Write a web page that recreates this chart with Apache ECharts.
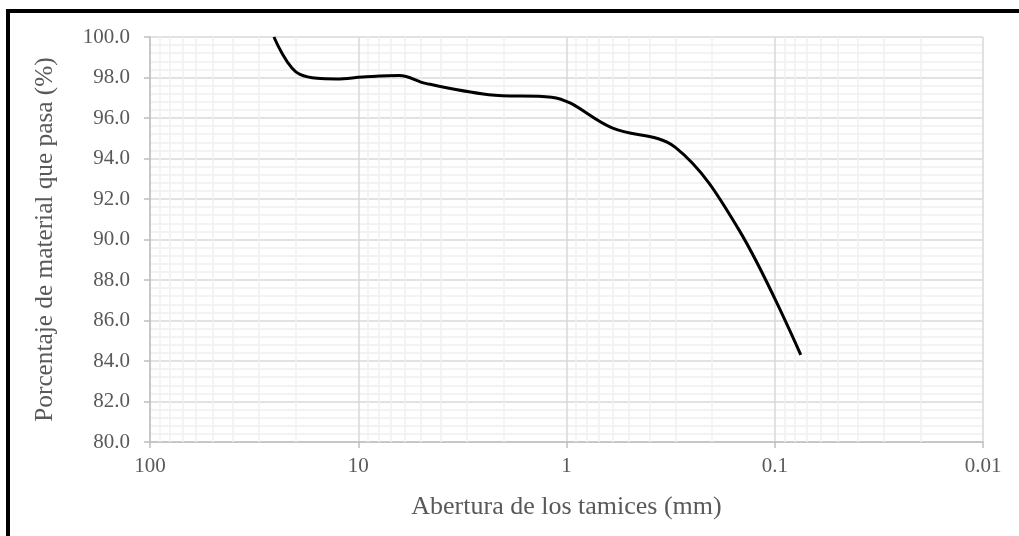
<!DOCTYPE html>
<html>
<head>
<meta charset="utf-8">
<script src="https://cdn.jsdelivr.net/npm/echarts@6/dist/echarts.min.js"></script>
<style>html,body{margin:0;padding:0;background:#fff;}#c{width:1019px;height:536px;}</style>
</head>
<body>
<div id="c"></div>
<script>
// Sieve openings (mm) and percent passing
const sieveMM = [25.4, 19.05, 12.7, 9.525, 6.35, 4.75, 2.36, 1.18, 0.6, 0.3, 0.15, 0.075];
const passing = [100.0, 98.15, 97.93, 98.02, 98.1, 97.71, 97.15, 97.03, 95.5, 94.55, 90.55, 84.3];
// Minor (logarithmic) vertical gridline positions
const minorX = [90,80,70,60,50,40,30,20, 9,8,7,6,5,4,3,2, 0.9,0.8,0.7,0.6,0.5,0.4,0.3,0.2, 0.09,0.08,0.07,0.06,0.05,0.04,0.03,0.02];
const xTitle = 'Abertura de los tamices (mm)';
const yTitle = 'Porcentaje de material que pasa (%)';

const font = '"Liberation Serif", "Times New Roman", serif';
const chart = echarts.init(document.getElementById('c'), null, {renderer: 'canvas'});
chart.setOption({
  backgroundColor: '#ffffff',
  animation: false,
  grid: {left: 150, right: 36, top: 37, bottom: 94, containLabel: false},
  xAxis: {
    type: 'log', logBase: 10, min: 0.01, max: 100, inverse: true,
    name: xTitle, nameLocation: 'middle', nameGap: 52,
    nameTextStyle: {fontFamily: font, fontSize: 26, color: '#595959'},
    axisLine: {show: true, lineStyle: {color: '#bfbfbf', width: 1.5}},
    axisTick: {show: true, length: 6, lineStyle: {color: '#bfbfbf', width: 1.5}},
    axisLabel: {fontFamily: font, fontSize: 21, color: '#595959', margin: 14,
      formatter: v => String(Number(Number(v).toPrecision(6)))},
    splitLine: {show: true, lineStyle: {color: '#d9d9d9', width: 1.5}},
    minorTick: {show: false}, minorSplitLine: {show: false}
  },
  yAxis: {
    type: 'value', min: 80, max: 100, interval: 2,
    name: yTitle, nameLocation: 'middle', nameGap: 92,
    nameTextStyle: {fontFamily: font, fontSize: 25.3, color: '#595959'},
    axisLine: {show: true, lineStyle: {color: '#bfbfbf', width: 1.5}},
    axisTick: {show: true, length: 6, lineStyle: {color: '#bfbfbf', width: 1.5}},
    axisLabel: {fontFamily: font, fontSize: 21, color: '#595959', margin: 20,
      formatter: v => Number(v).toFixed(1)},
    splitLine: {show: true, lineStyle: {color: '#d9d9d9', width: 1.5}},
    minorTick: {show: false, splitNumber: 5},
    minorSplitLine: {show: true, lineStyle: {color: '#f0f0f0', width: 1.5}}
  },
  series: [
    {
      type: 'line', data: [], z: 1, silent: true,
      markLine: {
        silent: true, symbol: ['none', 'none'], label: {show: false},
        lineStyle: {color: '#f0f0f0', width: 1.5, type: 'solid'},
        emphasis: {disabled: true},
        data: minorX.map(v => ({xAxis: v}))
      }
    },
    {
      type: 'line', z: 5,
      data: sieveMM.map((d, i) => [d, passing[i]]),
      smooth: 0.36, showSymbol: false, symbol: 'none',
      lineStyle: {color: '#000000', width: 3}
    }
  ],
  graphic: [{
    type: 'rect', silent: true, z: 100,
    shape: {x: 8, y: 11, width: 1200, height: 700},
    style: {fill: 'none', stroke: '#000000', lineWidth: 4}
  }]
});
</script>
</body>
</html>
